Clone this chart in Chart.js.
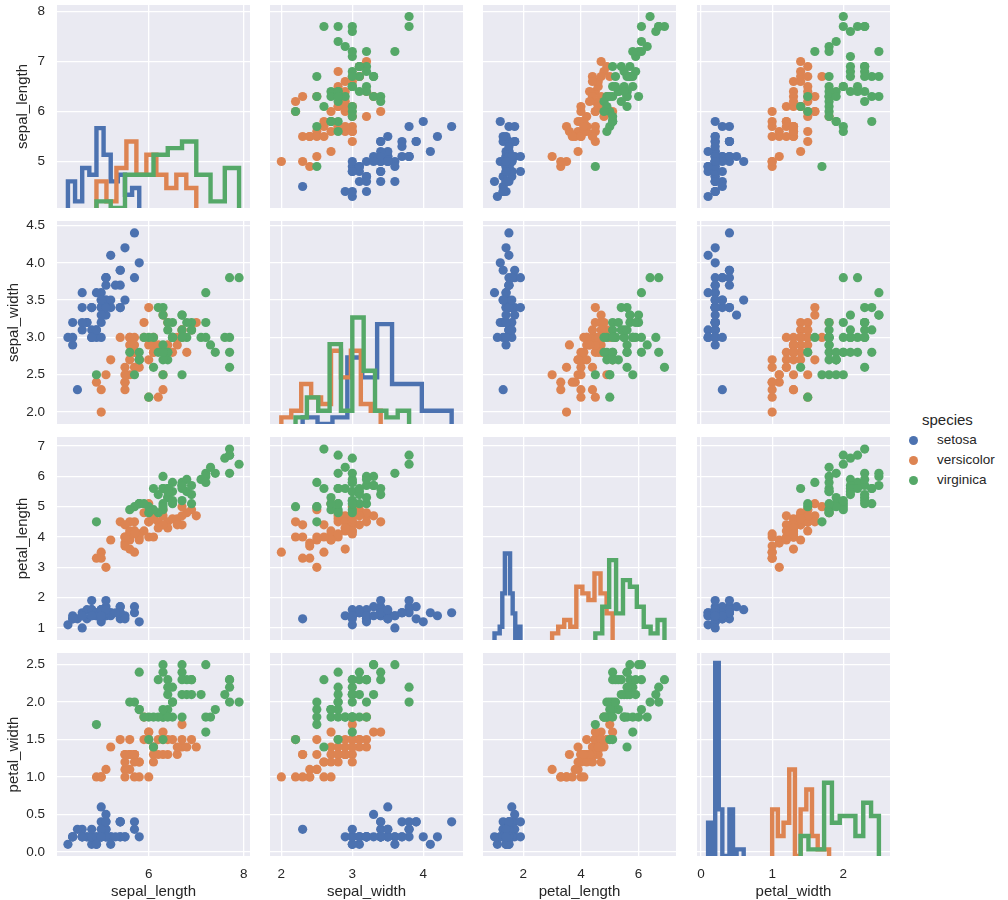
<!DOCTYPE html>
<html>
<head>
<meta charset="utf-8">
<title>iris pair plot</title>
<script src="https://cdn.jsdelivr.net/npm/chart.js@4/dist/chart.umd.min.js"></script>
<style>
    html, body { margin: 0; padding: 0; background: #ffffff; }
    #page { position: relative; width: 1008px; height: 900px; overflow: hidden; }
    canvas { position: absolute; display: block; }
    .legend-text {
        position: absolute;
        font-family: "Liberation Sans", Arial, sans-serif;
        color: #262626;
        line-height: 18px;
        white-space: nowrap;
    }
    .legend-dot { position: absolute; width: 9px; height: 9px; border-radius: 50%; }
</style>
</head>
<body>
<div id="page"></div>
<script>
// Measurements per species
var setosaSepalLength = [5.1,4.9,4.7,4.6,5.0,5.4,4.6,5.0,4.4,4.9,5.4,4.8,4.8,4.3,5.8,5.7,5.4,5.1,5.7,5.1,5.4,5.1,4.6,5.1,4.8,5.0,5.0,5.2,5.2,4.7,4.8,5.4,5.2,5.5,4.9,5.0,5.5,4.9,4.4,5.1,5.0,4.5,4.4,5.0,5.1,4.8,5.1,4.6,5.3,5.0];
var setosaSepalWidth = [3.5,3.0,3.2,3.1,3.6,3.9,3.4,3.4,2.9,3.1,3.7,3.4,3.0,3.0,4.0,4.4,3.9,3.5,3.8,3.8,3.4,3.7,3.6,3.3,3.4,3.0,3.4,3.5,3.4,3.2,3.1,3.4,4.1,4.2,3.1,3.2,3.5,3.6,3.0,3.4,3.5,2.3,3.2,3.5,3.8,3.0,3.8,3.2,3.7,3.3];
var setosaPetalLength = [1.4,1.4,1.3,1.5,1.4,1.7,1.4,1.5,1.4,1.5,1.5,1.6,1.4,1.1,1.2,1.5,1.3,1.4,1.7,1.5,1.7,1.5,1.0,1.7,1.9,1.6,1.6,1.5,1.4,1.6,1.6,1.5,1.5,1.4,1.5,1.2,1.3,1.4,1.3,1.5,1.3,1.3,1.3,1.6,1.9,1.4,1.6,1.4,1.5,1.4];
var setosaPetalWidth = [0.2,0.2,0.2,0.2,0.2,0.4,0.3,0.2,0.2,0.1,0.2,0.2,0.1,0.1,0.2,0.4,0.4,0.3,0.3,0.3,0.2,0.4,0.2,0.5,0.2,0.2,0.4,0.2,0.2,0.2,0.2,0.4,0.1,0.2,0.2,0.2,0.2,0.1,0.2,0.2,0.3,0.3,0.2,0.6,0.4,0.3,0.2,0.2,0.2,0.2];

var versicolorSepalLength = [7.0,6.4,6.9,5.5,6.5,5.7,6.3,4.9,6.6,5.2,5.0,5.9,6.0,6.1,5.6,6.7,5.6,5.8,6.2,5.6,5.9,6.1,6.3,6.1,6.4,6.6,6.8,6.7,6.0,5.7,5.5,5.5,5.8,6.0,5.4,6.0,6.7,6.3,5.6,5.5,5.5,6.1,5.8,5.0,5.6,5.7,5.7,6.2,5.1,5.7];
var versicolorSepalWidth = [3.2,3.2,3.1,2.3,2.8,2.8,3.3,2.4,2.9,2.7,2.0,3.0,2.2,2.9,2.9,3.1,3.0,2.7,2.2,2.5,3.2,2.8,2.5,2.8,2.9,3.0,2.8,3.0,2.9,2.6,2.4,2.4,2.7,2.7,3.0,3.4,3.1,2.3,3.0,2.5,2.6,3.0,2.6,2.3,2.7,3.0,2.9,2.9,2.5,2.8];
var versicolorPetalLength = [4.7,4.5,4.9,4.0,4.6,4.5,4.7,3.3,4.6,3.9,3.5,4.2,4.0,4.7,3.6,4.4,4.5,4.1,4.5,3.9,4.8,4.0,4.9,4.7,4.3,4.4,4.8,5.0,4.5,3.5,3.8,3.7,3.9,5.1,4.5,4.5,4.7,4.4,4.1,4.0,4.4,4.6,4.0,3.3,4.2,4.2,4.2,4.3,3.0,4.1];
var versicolorPetalWidth = [1.4,1.5,1.5,1.3,1.5,1.3,1.6,1.0,1.3,1.4,1.0,1.5,1.0,1.4,1.3,1.4,1.5,1.0,1.5,1.1,1.8,1.3,1.5,1.2,1.3,1.4,1.4,1.7,1.5,1.0,1.1,1.0,1.2,1.6,1.5,1.6,1.5,1.3,1.3,1.3,1.2,1.4,1.2,1.0,1.3,1.2,1.3,1.3,1.1,1.3];

var virginicaSepalLength = [6.3,5.8,7.1,6.3,6.5,7.6,4.9,7.3,6.7,7.2,6.5,6.4,6.8,5.7,5.8,6.4,6.5,7.7,7.7,6.0,6.9,5.6,7.7,6.3,6.7,7.2,6.2,6.1,6.4,7.2,7.4,7.9,6.4,6.3,6.1,7.7,6.3,6.4,6.0,6.9,6.7,6.9,5.8,6.8,6.7,6.7,6.3,6.5,6.2,5.9];
var virginicaSepalWidth = [3.3,2.7,3.0,2.9,3.0,3.0,2.5,2.9,2.5,3.6,3.2,2.7,3.0,2.5,2.8,3.2,3.0,3.8,2.6,2.2,3.2,2.8,2.8,2.7,3.3,3.2,2.8,3.0,2.8,3.0,2.8,3.8,2.8,2.8,2.6,3.0,3.4,3.1,3.0,3.1,3.1,3.1,2.7,3.2,3.3,3.0,2.5,3.0,3.4,3.0];
var virginicaPetalLength = [6.0,5.1,5.9,5.6,5.8,6.6,4.5,6.3,5.8,6.1,5.1,5.3,5.5,5.0,5.1,5.3,5.5,6.7,6.9,5.0,5.7,4.9,6.7,4.9,5.7,6.0,4.8,4.9,5.6,5.8,6.1,6.4,5.6,5.1,5.6,6.1,5.6,5.5,4.8,5.4,5.6,5.1,5.1,5.9,5.7,5.2,5.0,5.2,5.4,5.1];
var virginicaPetalWidth = [2.5,1.9,2.1,1.8,2.2,2.1,1.7,1.8,1.8,2.5,2.0,1.9,2.1,2.0,2.4,2.3,1.8,2.2,2.3,1.5,2.3,2.0,2.0,1.8,2.1,1.8,1.8,1.8,2.1,1.6,1.9,2.0,2.2,1.5,1.4,2.3,2.4,1.8,1.8,2.1,2.4,2.3,1.9,2.3,2.5,2.3,1.9,2.0,2.3,1.8];

// Histogram bin edges and counts for the diagonal panels
var setosaSepalLengthEdges = [4.3,4.45,4.6,4.75,4.9,5.05,5.2,5.35,5.5,5.65,5.8];
var setosaSepalLengthCounts = [4,1,6,5,12,8,4,5,2,3];
var versicolorSepalLengthEdges = [4.9,5.11,5.32,5.53,5.74,5.95,6.16,6.37,6.58,6.79,7.0];
var versicolorSepalLengthCounts = [4,1,6,10,5,8,5,3,5,3];
var virginicaSepalLengthEdges = [4.9,5.2,5.5,5.8,6.1,6.4,6.7,7.0,7.3,7.6,7.9];
var virginicaSepalLengthCounts = [1,0,5,5,8,9,10,5,1,6];

var setosaSepalWidthEdges = [2.3,2.51,2.72,2.93,3.14,3.35,3.56,3.77,3.98,4.19,4.4];
var setosaSepalWidthCounts = [1,0,1,10,7,15,6,6,2,2];
var versicolorSepalWidthEdges = [2.0,2.14,2.28,2.42,2.56,2.7,2.84,2.98,3.12,3.26,3.4];
var versicolorSepalWidthCounts = [1,2,6,4,3,11,7,11,3,2];
var virginicaSepalWidthEdges = [2.2,2.36,2.52,2.68,2.84,3.0,3.16,3.32,3.48,3.64,3.8];
var virginicaSepalWidthCounts = [1,4,2,12,2,16,8,2,1,2];

var setosaPetalLengthEdges = [1.0,1.09,1.18,1.27,1.36,1.45,1.54,1.63,1.72,1.81,1.9];
var setosaPetalLengthCounts = [1,1,2,7,13,13,7,4,0,2];
var versicolorPetalLengthEdges = [3.0,3.21,3.42,3.63,3.84,4.05,4.26,4.47,4.68,4.89,5.1];
var versicolorPetalLengthCounts = [1,2,3,2,8,7,6,10,7,4];
var virginicaPetalLengthEdges = [4.5,4.74,4.98,5.22,5.46,5.7,5.94,6.18,6.42,6.66,6.9];
var virginicaPetalLengthCounts = [1,5,12,4,9,8,5,2,1,3];

var setosaPetalWidthEdges = [0.1,0.15,0.2,0.25,0.3,0.35,0.4,0.45,0.5,0.55,0.6];
var setosaPetalWidthCounts = [5,0,29,7,0,0,7,0,1,1];
var versicolorPetalWidthEdges = [1.0,1.08,1.16,1.24,1.32,1.4,1.48,1.56,1.64,1.72,1.8];
var versicolorPetalWidthCounts = [7,3,5,13,0,7,10,3,1,1];
var virginicaPetalWidthEdges = [1.4,1.51,1.62,1.73,1.84,1.95,2.06,2.17,2.28,2.39,2.5];
var virginicaPetalWidthCounts = [3,1,1,11,5,6,6,3,8,6];

// Axis names, limits and ticks, one entry per variable
var variableNames = ['sepal_length', 'sepal_width', 'petal_length', 'petal_width'];
var axisMin = [4.07, 1.84, 0.6, -0.056];
var axisMax = [8.13, 4.56, 7.3, 2.656];
var xTickValues = [[6, 8], [2, 3, 4], [2, 4, 6], [0, 1, 2]];
var yTickValues = [[5, 6, 7, 8], [2, 2.5, 3, 3.5, 4, 4.5], [1, 2, 3, 4, 5, 6, 7], [0, 0.5, 1, 1.5, 2, 2.5]];
var yTickDecimals = [0, 1, 0, 1];
var histMaxCount = 30.5;

var speciesNames = ['setosa', 'versicolor', 'virginica'];
var speciesColors = ['#4c72b0', '#dd8452', '#55a868'];
var speciesValues = [
    [setosaSepalLength, setosaSepalWidth, setosaPetalLength, setosaPetalWidth],
    [versicolorSepalLength, versicolorSepalWidth, versicolorPetalLength, versicolorPetalWidth],
    [virginicaSepalLength, virginicaSepalWidth, virginicaPetalLength, virginicaPetalWidth]
];
var speciesEdges = [
    [setosaSepalLengthEdges, setosaSepalWidthEdges, setosaPetalLengthEdges, setosaPetalWidthEdges],
    [versicolorSepalLengthEdges, versicolorSepalWidthEdges, versicolorPetalLengthEdges, versicolorPetalWidthEdges],
    [virginicaSepalLengthEdges, virginicaSepalWidthEdges, virginicaPetalLengthEdges, virginicaPetalWidthEdges]
];
var speciesCounts = [
    [setosaSepalLengthCounts, setosaSepalWidthCounts, setosaPetalLengthCounts, setosaPetalWidthCounts],
    [versicolorSepalLengthCounts, versicolorSepalWidthCounts, versicolorPetalLengthCounts, versicolorPetalWidthCounts],
    [virginicaSepalLengthCounts, virginicaSepalWidthCounts, virginicaPetalLengthCounts, virginicaPetalWidthCounts]
];

// Grid layout in pixels
var panelLeft = [57, 270, 483, 697];
var panelTop = [5, 221, 437, 653];
var panelWidth = 193;
var panelHeight = 203;
var yGutter = 57;
var xGutter = 45;
var topSpace = 5;
var yTitleOffset = [14, 5, 14, 5];

var fontFamily = '"Liberation Sans", Arial, sans-serif';
var textColor = '#262626';

// Paints the grey seaborn background behind each panel
var panelBackground = {
    id: 'panelBackground',
    beforeDraw: function(chart) {
        var a = chart.chartArea;
        chart.ctx.save();
        chart.ctx.fillStyle = '#eaeaf2';
        chart.ctx.fillRect(a.left, a.top, a.right - a.left, a.bottom - a.top);
        chart.ctx.restore();
    }
};

function scatterPoints(xs, ys) {
    return xs.map(function(x, i) {
        return {x: x, y: ys[i]};
    });
}

// Step outline of a histogram, open at the base like histtype='step'
function stepOutline(edges, counts) {
    var points = [{x: edges[0], y: 0}];
    counts.forEach(function(count, i) {
        points.push({x: edges[i], y: count});
        points.push({x: edges[i + 1], y: count});
    });
    points.push({x: edges[edges.length - 1], y: 0});
    return points;
}

function panelDatasets(row, col) {
    return speciesNames.map(function(name, s) {
        if (row === col) {
            return {
                label: name,
                data: stepOutline(speciesEdges[s][col], speciesCounts[s][col]),
                yAxisID: 'hist',
                showLine: true,
                pointRadius: 0,
                borderColor: speciesColors[s],
                borderWidth: 4.4,
                borderJoinStyle: 'miter',
                tension: 0,
                clip: 0,
                order: speciesNames.length - s
            };
        }
        return {
            label: name,
            data: scatterPoints(speciesValues[s][col], speciesValues[s][row]),
            yAxisID: 'y',
            pointRadius: 4.6,
            pointBorderWidth: 0,
            backgroundColor: speciesColors[s],
            order: speciesNames.length - s
        };
    });
}

// Tick labels must not push the panel in, so the scale padding is dropped
function clearPadding(axis) {
    axis.paddingLeft = 0;
    axis.paddingRight = 0;
    axis.paddingTop = 0;
    axis.paddingBottom = 0;
}

function makeScales(row, col) {
    var isLeft = col === 0;
    var isBottom = row === variableNames.length - 1;
    var grid = {color: '#ffffff', lineWidth: 1.3, drawTicks: false};
    return {
        x: {
            type: 'linear',
            min: axisMin[col],
            max: axisMax[col],
            grid: grid,
            border: {display: false},
            afterBuildTicks: function(axis) {
                axis.ticks = xTickValues[col].map(function(v) { return {value: v}; });
            },
            afterFit: function(axis) {
                axis.height = isBottom ? xGutter : 0;
                clearPadding(axis);
            },
            ticks: {
                display: isBottom,
                color: textColor,
                padding: 10,
                maxRotation: 0,
                autoSkip: false,
                font: {family: fontFamily, size: 13.5},
                callback: function(v) { return String(v); }
            },
            title: {
                display: isBottom,
                text: variableNames[col],
                color: textColor,
                padding: {top: 0, bottom: 0},
                font: {family: fontFamily, size: 15}
            }
        },
        y: {
            type: 'linear',
            min: axisMin[row],
            max: axisMax[row],
            grid: grid,
            border: {display: false},
            afterBuildTicks: function(axis) {
                axis.ticks = yTickValues[row].map(function(v) { return {value: v}; });
            },
            afterFit: function(axis) {
                axis.width = isLeft ? yGutter : 0;
                clearPadding(axis);
            },
            ticks: {
                display: isLeft,
                color: textColor,
                padding: 12,
                autoSkip: false,
                font: {family: fontFamily, size: 13.5},
                callback: function(v) { return v.toFixed(yTickDecimals[row]); }
            },
            title: {
                display: isLeft,
                text: variableNames[row],
                color: textColor,
                padding: {top: yTitleOffset[row], bottom: 0},
                font: {family: fontFamily, size: 15}
            }
        },
        // The histogram counts have their own hidden axis, as on a twin axis
        hist: {
            type: 'linear',
            display: false,
            position: 'right',
            min: 0,
            max: histMaxCount
        }
    };
}

function drawPanel(row, col) {
    var page = document.getElementById('page');
    var canvas = document.createElement('canvas');
    var left = col === 0 ? 0 : panelLeft[col];
    var width = col === 0 ? yGutter + panelWidth : panelWidth;
    var height = topSpace + panelHeight + (row === variableNames.length - 1 ? xGutter : 0);
    canvas.width = width;
    canvas.height = height;
    canvas.style.left = left + 'px';
    canvas.style.top = (panelTop[row] - topSpace) + 'px';
    canvas.style.width = width + 'px';
    canvas.style.height = height + 'px';
    page.appendChild(canvas);

    new Chart(canvas, {
        type: 'scatter',
        data: {datasets: panelDatasets(row, col)},
        options: {
            responsive: false,
            animation: false,
            devicePixelRatio: 1,
            events: [],
            layout: {autoPadding: false, padding: {top: topSpace, left: 0, right: 0, bottom: 0}},
            scales: makeScales(row, col),
            plugins: {legend: {display: false}, tooltip: {enabled: false}}
        },
        plugins: [panelBackground]
    });
}

function addLegendText(text, x, centerY, size) {
    var span = document.createElement('div');
    span.className = 'legend-text';
    span.textContent = text;
    span.style.left = x + 'px';
    span.style.top = (centerY - 9) + 'px';
    span.style.fontSize = size + 'px';
    document.getElementById('page').appendChild(span);
}

function drawLegend() {
    var rowY = [440, 460, 480];
    addLegendText('species', 922, 420, 15);
    speciesNames.forEach(function(name, s) {
        var dot = document.createElement('div');
        dot.className = 'legend-dot';
        dot.style.left = '909px';
        dot.style.top = (rowY[s] - 4) + 'px';
        dot.style.background = speciesColors[s];
        document.getElementById('page').appendChild(dot);
        addLegendText(name, 937, rowY[s], 13.5);
    });
}

for (var r = 0; r < variableNames.length; r++) {
    for (var c = 0; c < variableNames.length; c++) {
        drawPanel(r, c);
    }
}
drawLegend();
</script>
</body>
</html>
